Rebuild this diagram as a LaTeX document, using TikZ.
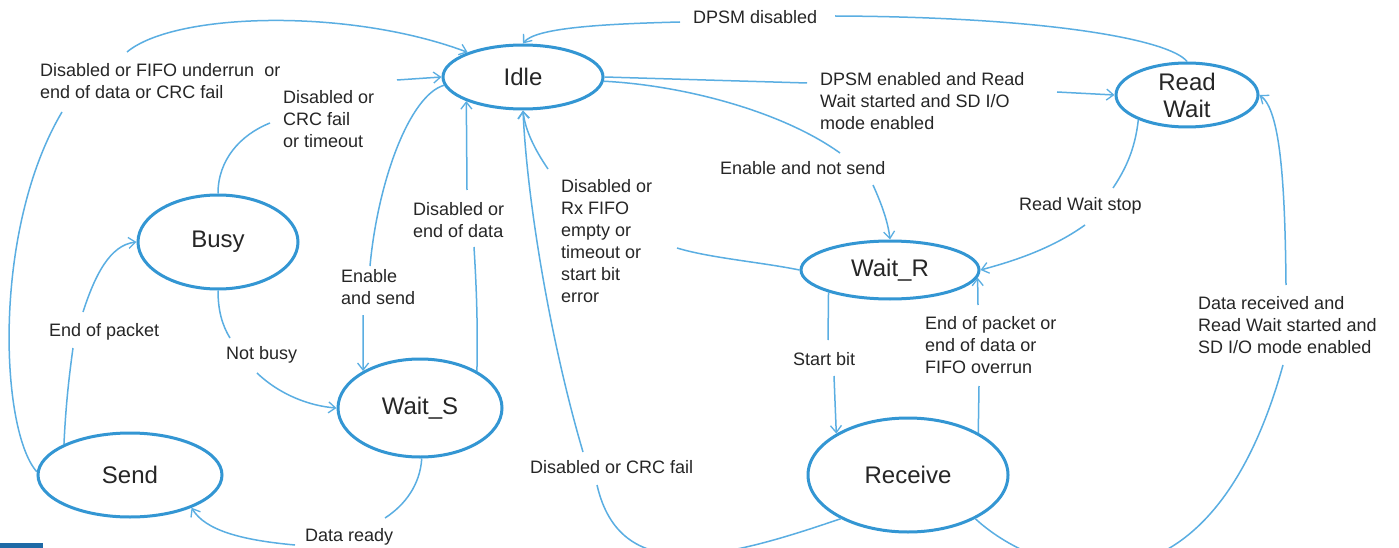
\documentclass[tikz,border=0pt]{standalone}
\usepackage{fontspec}
\setmainfont{Liberation Sans}
\usetikzlibrary{shapes.geometric,arrows.meta,calc}
\definecolor{stateblue}{HTML}{3396D3}
\definecolor{edgeblue}{HTML}{5AAEE2}
\definecolor{txt}{HTML}{262626}
\definecolor{barblue}{HTML}{1E6AA6}
\begin{document}
\begin{tikzpicture}[x=1pt,y=-1pt,
  state/.style={ellipse, draw=stateblue, line width=3pt, inner sep=0pt, text=txt,
    font=\fontsize{24}{27}\selectfont, align=center},
  lbl/.style={anchor=west, inner sep=0pt, text=txt, font=\fontsize{18}{22}\selectfont, align=left},
  conn/.style={draw=edgeblue, line width=1.5pt},
  arr/.style={conn, -{Straight Barb[length=7pt,width=11pt,line width=1.3pt]}}]
\useasboundingbox (0,0) rectangle (1399,548);
\clip (0,0) rectangle (1399,548);
\fill[white] (0,0) rectangle (1399,548);

% states
\node[state, minimum width=160pt, minimum height=64pt] (Idle) at (523,77) {Idle};
\node[state, minimum width=142pt, minimum height=64pt] (ReadWait) at (1187,95) {Read\\Wait};
\node[state, minimum width=160pt, minimum height=94pt] (Busy) at (218,242) {Busy};
\node[state, minimum width=164pt, minimum height=98pt] (WaitS) at (420,408) {Wait\_S};
\node[state, minimum width=184pt, minimum height=84pt] (Send) at (130,475) {Send};
\node[state, minimum width=178pt, minimum height=58pt] (WaitR) at (890,270) {Wait\_R};
\node[state, minimum width=200pt, minimum height=114pt] (Receive) at (908,475) {Receive};

% labels
\node[lbl] (L1) at (40,81) {Disabled or FIFO underrun\ \ or\\end of data or CRC fail};
\node[lbl] (L2) at (283,119) {Disabled or\\CRC fail\\or timeout};
\node[lbl] (L3) at (341,287) {Enable\\and send};
\node[lbl] (L4) at (413,220) {Disabled or\\end of data};
\node[lbl] (L5) at (226,355) {Not busy};
\node[lbl] (L6) at (49,332) {End of packet};
\node[lbl] (L7) at (305,537) {Data ready};
\node[lbl] (L8) at (820,101) {DPSM enabled and Read\\Wait started and SD I/O\\mode enabled};
\node[lbl] (L9) at (693,17) {DPSM disabled};
\node[lbl] (L10) at (720,168) {Enable and not send};
\node[lbl] (L11) at (561,241) {Disabled or\\Rx FIFO\\empty or\\timeout or\\start bit\\error};
\node[lbl] (L12) at (530,467) {Disabled or CRC fail};
\node[lbl] (L13) at (1019,206) {Read Wait stop};
\node[lbl] (L14) at (793,359) {Start bit};
\node[lbl] (L15) at (925,345) {End of packet or\\end of data or\\FIFO overrun};
\node[lbl] (L16) at (1198,325) {Data received and\\Read Wait started and\\SD I/O mode enabled};

% connectors
\draw[conn] (Send.178) .. controls (0,430) and (-8,230) .. ($(L1.west)+(22,31)$);
\draw[arr] ($(L1.west)+(87,-29)$) .. controls (175,12) and (350,8) .. (Idle.156);

\draw[conn] (Busy.north) .. controls (218,160) and (240,135) .. ($(L2.west)+(-13,4)$);
\draw[arr] ($(L2.west)+(114,-39)$) -- (Idle.west);

\draw[conn] (Idle.186) .. controls (410,95) and (378,180) .. ($(L3.west)+(29,-21)$);
\draw[arr] ($(L3.west)+(22,28)$) -- (WaitS.147);

\draw[conn] (WaitS.33) .. controls (478,320) and (476,280) .. ($(L4.west)+(61,27)$);
\draw[arr] ($(L4.west)+(54,-30)$) -- (Idle.203);

\draw[conn] (Busy.south) .. controls (218,310) and (222,325) .. ($(L5.west)+(4,-17)$);
\draw[arr] ($(L5.west)+(31,18)$) .. controls (280,395) and (310,406) .. (WaitS.west);

\draw[conn] (Send.155) .. controls (66,400) and (70,370) .. ($(L6.west)+(24,16)$);
\draw[arr] ($(L6.west)+(34,-20)$) .. controls (95,275) and (110,245) .. (Busy.west);

\draw[conn] (WaitS.272) .. controls (420,485) and (405,505) .. ($(L7.west)+(80,-19)$);
\draw[arr] ($(L7.west)+(-10,8)$) .. controls (240,540) and (205,530) .. (Send.332);

\draw[conn] (Idle.east) -- ($(L8.west)+(-13,-18)$);
\draw[arr] ($(L8.west)+(237,-9)$) -- (ReadWait.west);

\draw[conn] (ReadWait.north) .. controls (1170,40) and (1050,17) .. ($(L9.west)+(142,-1)$);
\draw[arr] ($(L9.west)+(-13,5)$) .. controls (600,24) and (535,28) .. (Idle.north);

\draw[conn] (Idle.357) .. controls (680,85) and (780,110) .. ($(L10.west)+(120,-15)$);
\draw[arr] ($(L10.west)+(153,17)$) .. controls (882,205) and (888,222) .. (WaitR.north);

\draw[conn] (WaitR.west) .. controls (760,262) and (710,258) .. ($(L11.west)+(116,7)$);
\draw[arr] ($(L11.west)+(-13,-72)$) .. controls (535,150) and (525,130) .. (Idle.south);

\draw[conn] (Receive.213) .. controls (720,560) and (620,585) .. ($(L12.west)+(67,18)$);
\draw[arr] ($(L12.west)+(53,-15)$) .. controls (550,340) and (527,200) .. (Idle.south);

\draw[conn] (Receive.327) .. controls (1030,570) and (1205,645) .. ($(L16.west)+(85,40)$);
\draw[arr] ($(L16.west)+(88,-40)$) .. controls (1285,180) and (1280,110) .. (ReadWait.east);

\draw[conn] (ReadWait.207) .. controls (1135,150) and (1125,170) .. ($(L13.west)+(94,-18)$);
\draw[arr] ($(L13.west)+(66,19)$) .. controls (1050,250) and (1010,262) .. (WaitR.east);

\draw[conn] (WaitR.200) -- ($(L14.west)+(35,-19)$);
\draw[arr] ($(L14.west)+(41,17)$) -- (Receive.150);

\draw[conn] (Receive.31) -- ($(L15.west)+(54,41)$);
\draw[arr] ($(L15.west)+(53,-40)$) -- (WaitR.355);

\fill[barblue] (0,543) rectangle (43,548);
\end{tikzpicture}
\end{document}
